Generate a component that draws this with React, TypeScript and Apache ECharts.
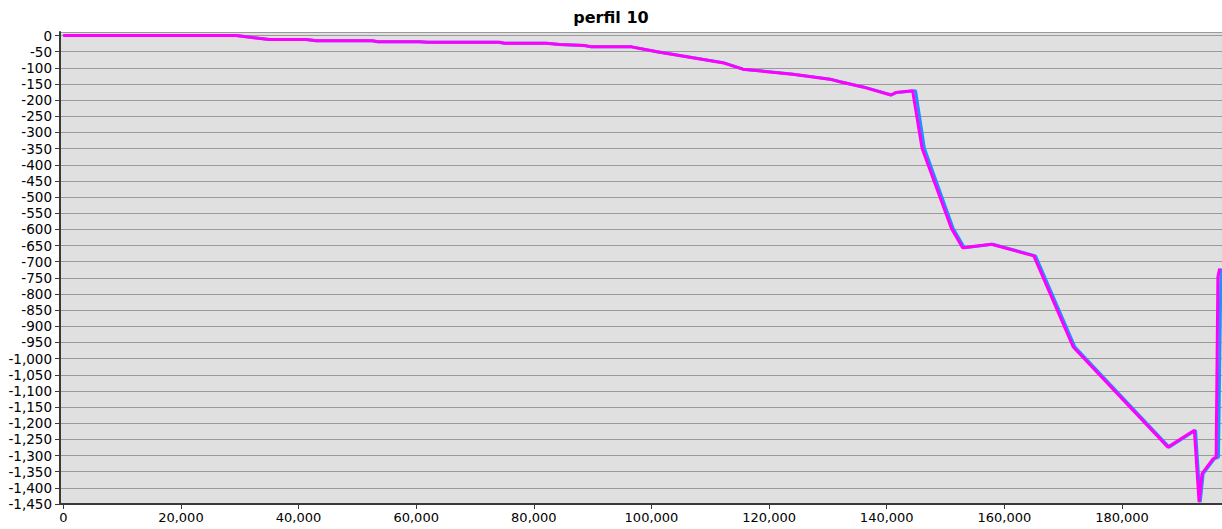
import React, { useEffect, useRef } from "react";
import * as echarts from "echarts";

// Profile distance (m) and depth (m) for the magenta trace
const distance = [
  0, 29400, 31100, 35000, 41300, 43000, 52500, 53500, 60500, 62000,
  74100, 75000, 82100, 84400, 88600, 89800, 96600, 100900, 112100, 115500,
  124000, 130300, 132000, 135900, 140700, 141600, 144400, 146000, 151000, 152900,
  157800, 165000, 171700, 187800, 192300, 193100, 193600, 195500, 196000, 196300,
  196600,
];
const depth = [
  0, 0, -4, -12, -12, -16, -16, -19, -19, -21,
  -21, -24, -24, -28, -31, -35, -35, -50, -84, -104,
  -120, -135, -143, -159, -184, -176, -171, -349, -597, -657,
  -646, -682, -964, -1274, -1222, -1444, -1356, -1310, -1305, -747,
  -721,
];

// Second (blue) trace of the same profile
const blueDistance = [
  0, 29400, 31100, 35000, 41300, 43000, 52500, 53500, 60500, 62000,
  74100, 75000, 82100, 84400, 88600, 89800, 96600, 101000, 112200, 115600,
  124100, 130400, 132100, 136000, 140800, 141700, 144900, 146400, 151300, 153200,
  158000, 165300, 172000, 188000, 192500, 193300, 193800, 195700, 196400, 196800,
  196900,
];
const blueDepth = [
  0, 0, -4, -12, -12, -16, -16, -19, -19, -21,
  -21, -24, -24, -28, -31, -35, -35, -50, -84, -104,
  -120, -135, -143, -159, -184, -176, -171, -349, -597, -657,
  -646, -682, -964, -1274, -1222, -1444, -1356, -1310, -1305, -750,
  -721,
];

const xTicks = [0, 20000, 40000, 60000, 80000, 100000, 120000, 140000, 160000, 180000];

const title = "perfil 10";

const fmt = (v: number) => Math.round(v).toLocaleString("en-US");

export default function App() {
  const ref = useRef<HTMLDivElement>(null);

  useEffect(() => {
    if (!ref.current) return;
    const chart = echarts.init(ref.current, undefined, { renderer: "svg" });
    const font = "DejaVu Sans";
    chart.setOption({
      animation: false,
      backgroundColor: "#ffffff",
      title: {
        text: title,
        left: "center",
        top: 4,
        textStyle: { fontFamily: font, fontSize: 16, fontWeight: "bold", color: "#000" },
      },
      grid: {
        left: 60,
        right: 0,
        top: 32,
        bottom: 25,
        show: true,
        backgroundColor: "#e0e0e0",
        borderWidth: 0,
        containLabel: false,
      },
      xAxis: {
        type: "value",
        min: -560,
        max: 197000,
        axisLine: { show: true, onZero: false, lineStyle: { color: "#3a3a3a", width: 2 } },
        axisTick: { show: true, length: 5, customValues: xTicks, lineStyle: { color: "#3a3a3a", width: 1 } },
        axisLabel: {
          customValues: xTicks,
          formatter: (v: number) => fmt(v),
          fontFamily: font,
          fontSize: 13,
          color: "#000",
          margin: 7,
        },
        splitLine: { show: false },
      },
      yAxis: {
        type: "value",
        min: -1450,
        max: 11,
        interval: 50,
        axisLine: { show: true, onZero: false, lineStyle: { color: "#3a3a3a", width: 2 } },
        axisTick: { show: true, length: 5, lineStyle: { color: "#3a3a3a", width: 1 } },
        axisLabel: {
          formatter: (v: number) => fmt(v),
          showMaxLabel: false,
          fontFamily: font,
          fontSize: 13.5,
          color: "#000",
          margin: 8,
        },
        splitLine: { show: true, lineStyle: { color: "#9a9a9a", width: 1 } },
      },
      series: [
        {
          type: "line",
          name: "b",
          data: blueDistance.map((d, i) => [d, blueDepth[i]]),
          showSymbol: false,
          lineStyle: { color: "#1e90ff", width: 3 },
          z: 2,
        },
        {
          type: "line",
          name: "a",
          data: distance.map((d, i) => [d, depth[i]]),
          showSymbol: false,
          lineStyle: { color: "#ff00ff", width: 3 },
          z: 3,
        },
      ],
    });
    return () => chart.dispose();
  }, []);

  return (
    <div
      ref={ref}
      style={{ position: "absolute", left: 0, top: 0, width: 1222, height: 529 }}
    />
  );
}
